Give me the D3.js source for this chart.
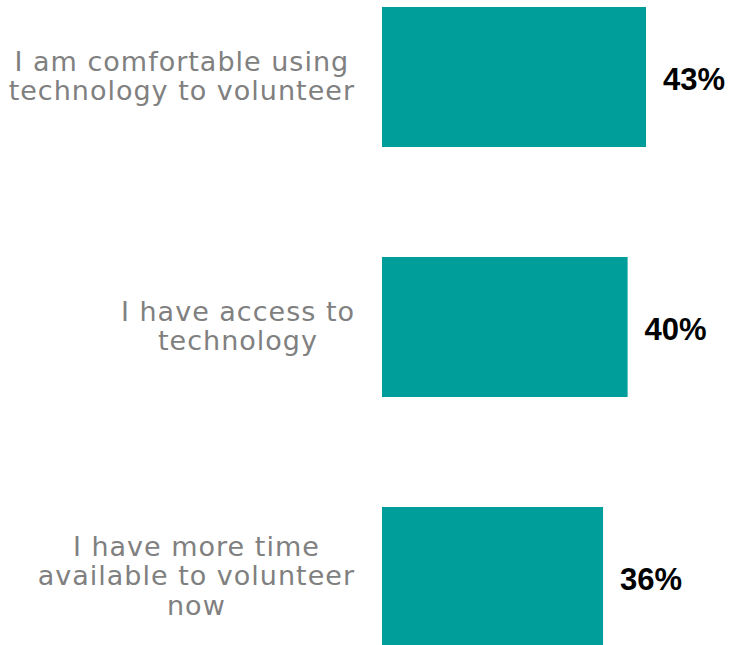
<!DOCTYPE html>
<html>
<head>
<meta charset="utf-8">
<script src="https://cdn.jsdelivr.net/npm/d3@7"></script>
<style>
  body { margin: 0; background: #fff; }
</style>
</head>
<body>
<div id="chart"></div>
<script>
// chart data
var categories = ["comfortable", "access", "time"];
var labelLines = [
  ["I am comfortable using", "technology to volunteer"],
  ["I have access to", "technology"],
  ["I have more time", "available to volunteer", "now"]
];
var values = [0.43, 0.40, 0.36];
var valueLabels = ["43%", "40%", "36%"];

var width = 731, height = 645;

var svg = d3.select("#chart").append("svg")
    .attr("width", width)
    .attr("height", height);

// set the ranges
var x = d3.scaleLinear().domain([0, 1]).range([382, 996]);
var y = d3.scaleBand()
    .domain(categories)
    .range([-48, 702])
    .paddingInner(0.44)
    .paddingOuter(0.22);

// bars
svg.selectAll(".bar")
    .data(values)
  .enter().append("rect")
    .attr("class", "bar")
    .attr("x", x(0))
    .attr("y", function(d, i) { return y(categories[i]); })
    .attr("width", function(d) { return x(d) - x(0); })
    .attr("height", y.bandwidth())
    .style("fill", "#009e9b");

// value labels
svg.selectAll(".value")
    .data(values)
  .enter().append("text")
    .attr("class", "value")
    .attr("x", function(d) { return x(d) + 17; })
    .attr("y", function(d, i) { return y(categories[i]) + y.bandwidth() / 2 + 2; })
    .attr("dy", "0.36em")
    .style("font-family", "Liberation Sans, Arial, sans-serif")
    .style("font-weight", "bold")
    .style("font-size", "31px")
    .style("fill", "#000")
    .text(function(d, i) { return valueLabels[i]; });

// category labels: lines centred in a block that is right-aligned to the axis
var lineH = 29.5, rightEdge = 355;
labelLines.forEach(function(lines, i) {
  var g = svg.append("g");
  var cy = y(categories[i]) + y.bandwidth() / 2 - 1;
  var texts = g.selectAll("text")
      .data(lines)
    .enter().append("text")
      .attr("y", function(d, j) { return cy + (j - (lines.length - 1) / 2) * lineH; })
      .attr("dy", "0.35em")
      .attr("text-anchor", "middle")
      .style("font-family", "DejaVu Sans, sans-serif")
      .style("font-size", "27px")
      .style("letter-spacing", "1px")
      .style("fill", "#808080")
      .text(function(d) { return d; });
  var maxW = 0;
  texts.each(function() { maxW = Math.max(maxW, this.getComputedTextLength()); });
  texts.attr("x", rightEdge - maxW / 2);
});
</script>
</body>
</html>
